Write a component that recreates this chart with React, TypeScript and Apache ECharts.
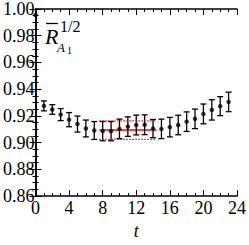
import React, { useEffect, useRef } from "react";
import * as echarts from "echarts";

const tValues = [1, 2, 3, 4, 5, 6, 7, 8, 9, 10, 11, 12, 13, 14, 15, 16, 17, 18, 19, 20, 21, 22, 23];
const means = [0.9275, 0.9248, 0.921, 0.9172, 0.9139, 0.9106, 0.9091, 0.9086, 0.9086, 0.9103, 0.912, 0.9132, 0.9134, 0.9105, 0.9103, 0.9116, 0.9132, 0.9157, 0.9178, 0.9215, 0.9245, 0.9273, 0.9305];
const errors = [0.0037, 0.0036, 0.0045, 0.0053, 0.006, 0.0063, 0.0067, 0.0072, 0.0072, 0.0073, 0.0073, 0.0074, 0.0074, 0.0068, 0.0073, 0.0073, 0.0073, 0.0073, 0.0073, 0.0074, 0.0076, 0.0071, 0.0073];
const originPoint = [0, 0.9955];
const fitRange = [7.6, 14.4];
const fitCentral = 0.9095;
const fitUpper = 0.9163;
const fitLower = 0.9025;

const FONT = "'Liberation Serif', 'Times New Roman', serif";

export default function App() {
  const ref = useRef<HTMLDivElement>(null);
  useEffect(() => {
    if (!ref.current) return;
    const chart = echarts.init(ref.current, null, { renderer: "svg" });
    const errData = tValues.map((t, i) => [t, means[i] - errors[i], means[i] + errors[i]]);
    const pts = tValues.map((t, i) => [t, means[i]]);
    const axisLine = { show: true, lineStyle: { color: "#000", width: 1.5 } };
    const xCommon = {
      type: "value" as const,
      min: 0,
      max: 24,
      interval: 4,
      splitLine: { show: false },
      axisLine,
      axisTick: { inside: true, length: 6, lineStyle: { color: "#000", width: 1 } },
      minorTick: { show: true, splitNumber: 4, length: 3, lineStyle: { color: "#000", width: 1 } },
    };
    const yCommon = {
      type: "value" as const,
      min: 0.86,
      max: 1.0,
      interval: 0.02,
      splitLine: { show: false },
      axisLine,
      axisTick: { inside: true, length: 6, lineStyle: { color: "#000", width: 1 } },
      minorTick: { show: true, splitNumber: 4, length: 3, lineStyle: { color: "#000", width: 1 } },
    };
    chart.setOption({
      animation: false,
      grid: { left: 32, right: 8, top: 6, bottom: 31, containLabel: false },
      xAxis: [
        {
          ...xCommon,
          position: "bottom",
          name: "t",
          nameLocation: "middle",
          nameGap: 22,
          nameTextStyle: { fontFamily: FONT, fontStyle: "italic", fontSize: 18, color: "#000" },
          axisLabel: { show: true, fontFamily: FONT, fontSize: 18, color: "#000", margin: 3 },
        },
        { ...xCommon, position: "top", axisLabel: { show: false } },
      ],
      yAxis: [
        {
          ...yCommon,
          position: "left",
          axisLabel: {
            show: true,
            fontFamily: FONT,
            fontSize: 18,
            color: "#000",
            margin: 1,
            padding: [3, 0, 0, 0],
            formatter: (v: number) => v.toFixed(2),
          },
        },
        { ...yCommon, position: "right", axisLabel: { show: false } },
      ],
      graphic: [
        { type: "text", left: 45, top: 25, style: { text: "R", fontFamily: FONT, fontStyle: "italic", fontSize: 22, fill: "#000" } },
        { type: "line", shape: { x1: 46, y1: 23.5, x2: 58, y2: 23.5 }, style: { stroke: "#000", lineWidth: 1.3 } },
        { type: "text", left: 57, top: 41, style: { text: "A", fontFamily: FONT, fontStyle: "italic", fontSize: 13, fill: "#000" } },
        { type: "text", left: 67, top: 45, style: { text: "1", fontFamily: FONT, fontSize: 10, fill: "#000" } },
        { type: "text", left: 60, top: 18, style: { text: "1/2", fontFamily: FONT, fontSize: 16, fill: "#000" } },
      ],
      series: [
        {
          type: "line",
          data: [[fitRange[0], fitUpper], [fitRange[1], fitUpper]],
          symbol: "none",
          lineStyle: { color: "#ff0000", width: 1.2, type: [1.5, 1.5] },
          z: 5,
        },
        {
          type: "line",
          data: [[fitRange[0], fitLower], [fitRange[1], fitLower]],
          symbol: "none",
          lineStyle: { color: "#ff0000", width: 1.2, type: [1.5, 1.5] },
          z: 5,
        },
        {
          type: "line",
          data: [[fitRange[0], fitCentral], [fitRange[1], fitCentral]],
          symbol: "none",
          lineStyle: { color: "#ff0000", width: 1.5 },
          z: 1,
        },
        {
          type: "custom",
          data: errData,
          z: 3,
          renderItem: (params: any, api: any) => {
            const x = api.value(0);
            const lo = api.coord([x, api.value(1)]);
            const hi = api.coord([x, api.value(2)]);
            const w = 3;
            const style = { stroke: "#000", lineWidth: 1.3 };
            return {
              type: "group",
              children: [
                { type: "line", shape: { x1: lo[0], y1: lo[1], x2: hi[0], y2: hi[1] }, style },
                { type: "line", shape: { x1: lo[0] - w, y1: lo[1], x2: lo[0] + w, y2: lo[1] }, style },
                { type: "line", shape: { x1: hi[0] - w, y1: hi[1], x2: hi[0] + w, y2: hi[1] }, style },
              ],
            };
          },
        },
        {
          type: "scatter",
          data: [...pts, originPoint],
          symbol: "circle",
          symbolSize: 4.5,
          itemStyle: { color: "#000" },
          z: 4,
        },
      ],
    });
    return () => chart.dispose();
  }, []);
  return <div ref={ref} style={{ width: 249, height: 245, position: "absolute", left: 0, top: 0 }} />;
}
